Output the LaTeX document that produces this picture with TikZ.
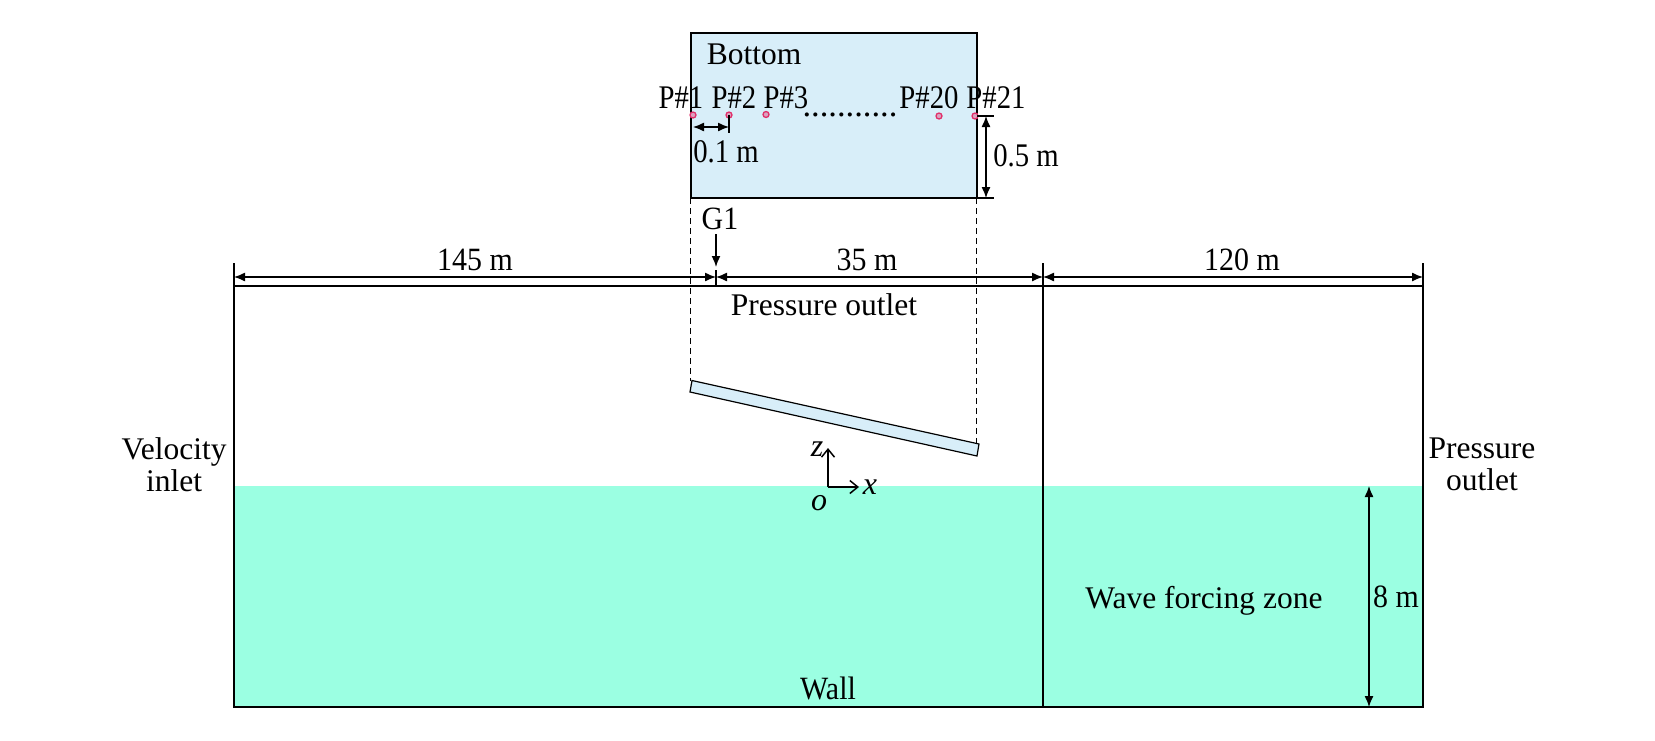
\documentclass[tikz,border=0pt]{standalone}
\usepackage{fontspec}
\setmainfont{Liberation Serif}
\newfontfamily\slimfont[FakeStretch=0.92]{Liberation Serif}
\newfontfamily\narrowfont[FakeStretch=0.87]{Liberation Serif}
\usetikzlibrary{arrows.meta}
\definecolor{water}{HTML}{9BFFE2}
\definecolor{plate}{HTML}{D8EEF9}
\definecolor{probe}{HTML}{E0306A}
\tikzset{
  lbl/.style={inner sep=0pt,font=\slimfont\fontsize{32.5}{32}\selectfont,align=center},
  big/.style={lbl,font=\fontsize{31.5}{32}\selectfont},
  small/.style={lbl,font=\narrowfont\fontsize{33}{30}\selectfont},
  axlbl/.style={lbl,font=\fontsize{32}{32}\selectfont\itshape},
  dim/.style={line width=1.3pt,{Latex[length=11pt,width=9pt]}-{Latex[length=11pt,width=9pt]}},
  tick/.style={line width=1.3pt},
  hidden/.style={line width=1pt,dash pattern=on 6pt off 4pt},
  axis/.style={line width=1.5pt,-{Straight Barb[length=8pt,width=13pt]}},
  probept/.style={circle,draw=probe,fill=plate!60!probe,line width=1.3pt,minimum size=6pt,inner sep=0pt}
}
\begin{document}
\begin{tikzpicture}[x=1pt,y=-1pt]
\useasboundingbox (0,0) rectangle (1655,740);

% tank
\fill[water] (234,486) rectangle (1423,707);
\draw[line width=2.4pt] (234,286) rectangle (1423,707);
\coordinate (midtop) at (1043,286);
\coordinate (midbot) at (1043,707);
\draw[line width=1.6pt] (midtop) -- (midbot);

% bottom view
\draw[fill=plate,line width=1.4pt] (691,33) rectangle (977,198);
\coordinate (boxl) at (690,198);
\coordinate (boxr) at (976,198);
\coordinate (platel) at (690,381);
\coordinate (plater) at (976,446);
\draw[hidden] (boxl) -- (platel);
\draw[hidden] (boxr) -- (plater);
\draw[fill=plate,line width=1.2pt] (692,380.5) -- (690,392) -- (977,456) -- (979,444) -- cycle;

\node[big] (bottom) at (754,54) {Bottom};
\node[small] (pa) at (681,98) {P\#1};
\node[small] (pb) at (734,98) {P\#2};
\node[small] (pc) at (786,98) {P\#3};
\node[small] (pd) at (929,98) {P\#20};
\node[small] (pe) at (996,98) {P\#21};
\node[lbl,font=\fontsize{34.5}{30}\selectfont,anchor=base] (dots) at (850,116) {...........};

\node[probept] (ca) at (693,115) {};
\node[probept] (cb) at (729,115) {};
\node[probept] (cc) at (766,114.5) {};
\node[probept] (cd) at (939,116) {};
\node[probept] (ce) at (975,116) {};

% 0.1 m and 0.5 m
\coordinate (ga) at (693,127);
\coordinate (gb) at (729,127);
\coordinate (gbt) at (729,115);
\coordinate (gbb) at (729,133);
\draw[tick] (gbt) -- (gbb);
\draw[dim] (ga) -- (gb);
\node[small] (gap) at (726,152) {0.1 m};
\coordinate (ha) at (986,116);
\coordinate (hb) at (986,198);
\coordinate (hat) at (977,116);
\coordinate (hae) at (994,116);
\coordinate (hbt) at (977,198);
\coordinate (hbe) at (994,198);
\draw[tick] (hat) -- (hae);
\draw[tick] (hbt) -- (hbe);
\draw[dim] (ha) -- (hb);
\node[small] (hgt) at (1026,156) {0.5 m};

% top dimensions
\coordinate (ta) at (234,277);
\coordinate (tb) at (716,277);
\coordinate (tc) at (1043,277);
\coordinate (td) at (1423,277);
\draw[tick] (234,263) -- (234,286);
\draw[tick] (716,270) -- (716,286);
\draw[tick] (1043,263) -- (1043,286);
\draw[tick] (1423,263) -- (1423,286);
\draw[dim] (ta) -- (tb);
\draw[dim] (tb) -- (tc);
\draw[dim] (tc) -- (td);
\node[lbl] (la) at (475,260) {145 m};
\node[lbl] (lb) at (867,260) {35 m};
\node[lbl] (lc) at (1242,260) {120 m};

\node[lbl] (gauge) at (720,219) {G1};
\coordinate (gs) at (716,234);
\coordinate (ge) at (716,267);
\draw[line width=1.6pt,-{Latex[length=11pt,width=9pt]}] (gs) -- (ge);

% boundaries
\node[big] (top) at (824,305) {Pressure outlet};
\node[big] (inlet) at (174,465) {Velocity\\inlet};
\node[big] (outlet) at (1482,464) {Pressure\\outlet};
\node[lbl] (wall) at (828,688) {Wall};
\node[big] (zone) at (1204,601) {Wave forcing zone};

% depth
\coordinate (da) at (1369,486);
\coordinate (db) at (1369,707);
\draw[dim] (da) -- (db);
\node[lbl] (depth) at (1396,597) {8 m};

% axes
\coordinate (o) at (828,487);
\coordinate (zend) at (828,448);
\coordinate (xend) at (859,487);
\draw[axis] (o) -- (zend);
\draw[axis] (o) -- (xend);
\node[axlbl] (zl) at (817,449) {z};
\node[axlbl] (xl) at (870,487) {x};
\node[axlbl] (ol) at (819,503) {o};

\end{tikzpicture}
\end{document}
